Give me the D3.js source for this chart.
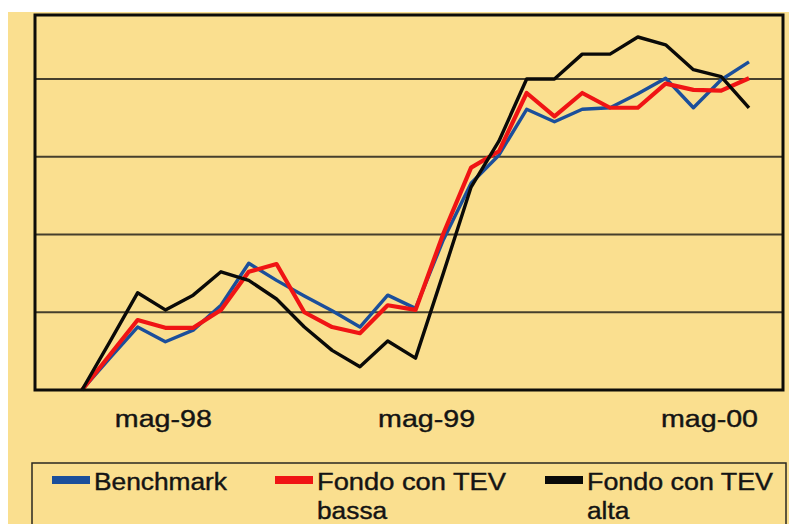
<!DOCTYPE html>
<html><head><meta charset="utf-8">
<script src="https://cdn.jsdelivr.net/npm/d3@7"></script>
<style>html,body{margin:0;padding:0;background:#fff;}svg{display:block;}</style>
</head><body>
<script>
// ---- data (index units) ----
const months = d3.range(25); // 25 consecutive observations
const benchmark = [0,0.41,0.81,0.62,0.77,1.09,1.63,1.41,1.21,1.02,0.81,1.22,1.05,1.93,2.66,3.02,3.61,3.45,3.61,3.63,3.81,4.01,3.63,3.99,4.22];
const tevBassa  = [0,0.45,0.90,0.80,0.80,1.03,1.52,1.62,1.00,0.81,0.73,1.09,1.03,2.01,2.86,3.07,3.82,3.52,3.82,3.63,3.63,3.94,3.86,3.85,4.01];
const tevAlta   = [0,0.62,1.25,1.03,1.22,1.52,1.41,1.17,0.81,0.51,0.30,0.63,0.41,1.50,2.61,3.20,4.00,4.00,4.32,4.32,4.54,4.44,4.12,4.03,3.63];
const tickLabels = ["mag-98","mag-99","mag-00"];
const tickPos = [2.91,12.38,22.56];
const gridValues = [1,2,3,4];
const seriesNames = ["Benchmark","Fondo con TEV\nbassa","Fondo con TEV\nalta"];
const seriesColors = ["#1b4f9b","#f01414","#0a0a08"];

const W=789,H=524;
const svg=d3.select("body").append("svg").attr("width",W).attr("height",H);
svg.append("rect").attr("x",0).attr("y",0).attr("width",W).attr("height",H).attr("fill","#ffffff");
svg.append("rect").attr("x",8).attr("y",12).attr("width",W-8).attr("height",H-12).attr("fill","#fadf8f");

const plot={l:35,t:15,r:783,b:390};
const x=d3.scaleLinear().domain([0,24]).range([82,749]);
const y=d3.scaleLinear().domain([0,4.823]).range([plot.b,plot.t]);

// gridlines
svg.append("g").selectAll("line").data(gridValues).join("line")
  .attr("x1",plot.l).attr("x2",plot.r)
  .attr("y1",d=>y(d)).attr("y2",d=>y(d))
  .attr("stroke","#453f2c").attr("stroke-width",2.2);

// series
const line=d3.line().x((d,i)=>x(months[i])).y(d=>y(d));
const series=[benchmark,tevBassa,tevAlta];
const widths=[3.4,4.2,3.4];
series.forEach((s,k)=>{
  svg.append("path").datum(s).attr("d",line).attr("fill","none")
    .attr("stroke",seriesColors[k]).attr("stroke-width",widths[k])
    .attr("stroke-linejoin","round").attr("stroke-linecap","butt");
});

// frame
svg.append("rect").attr("x",plot.l).attr("y",plot.t).attr("width",plot.r-plot.l).attr("height",plot.b-plot.t)
  .attr("fill","none").attr("stroke","#0d0c08").attr("stroke-width",3);

// x axis labels via d3 axis
const xAxis=d3.axisBottom(x).tickValues(tickPos).tickFormat((d,i)=>tickLabels[i]).tickSize(0).tickPadding(0);
const gx=svg.append("g").attr("transform",`translate(0,${plot.b})`).call(xAxis);
gx.select(".domain").remove();
gx.selectAll("text").attr("font-family","Liberation Sans, Arial, sans-serif").attr("font-size",23.5)
  .attr("fill","#141414").attr("stroke","#141414").attr("stroke-width",0.4).attr("dy",0).attr("y",37)
  .attr("textLength",97).attr("lengthAdjust","spacingAndGlyphs");

// legend
const lg=svg.append("g");
lg.append("rect").attr("x",32).attr("y",463).attr("width",754).attr("height",80)
  .attr("fill","none").attr("stroke","#2a2820").attr("stroke-width",1.5);
const legX=[52,275,545];
const legTextW=[133,189,186];
seriesNames.forEach((name,k)=>{
  lg.append("rect").attr("x",legX[k]).attr("y",476).attr("width",38).attr("height",8).attr("fill",seriesColors[k]);
  const parts=name.split("\n");
  parts.forEach((p,j)=>{
    const t=lg.append("text").attr("x",legX[k]+42).attr("y",490+j*29)
      .attr("font-family","Liberation Sans, Arial, sans-serif").attr("font-size",23.5)
      .attr("fill","#141414").attr("stroke","#141414").attr("stroke-width",0.4).text(p);
    if(j===0) t.attr("textLength",legTextW[k]).attr("lengthAdjust","spacingAndGlyphs");
    else t.attr("transform",`translate(${legX[k]+42},0) scale(1.12,1) translate(${-(legX[k]+42)},0)`);
  });
});
</script>
</body></html>
